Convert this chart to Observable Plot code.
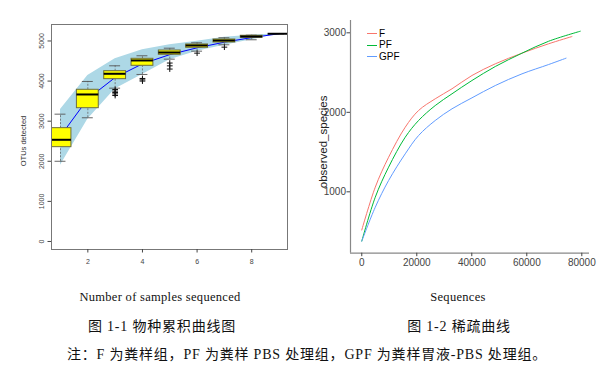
<!DOCTYPE html>
<html><head><meta charset="utf-8">
<script src="https://cdn.jsdelivr.net/npm/d3@7"></script>
<script src="https://cdn.jsdelivr.net/npm/@observablehq/plot@0.6"></script>
<style>
body{margin:0;background:#fff;}
#wrap{position:relative;width:611px;height:368px;overflow:hidden;background:#fff;}
#wrap svg{position:absolute;}
.cap{position:absolute;white-space:nowrap;transform:translate(-50%,-50%);color:#111;}
.en{font-family:"Liberation Serif","DejaVu Serif",serif;font-size:12.5px;letter-spacing:0.3px;}
.zh{font-family:"Liberation Serif","Noto Sans CJK SC",serif;font-size:14px;letter-spacing:0.8px;}
.leg{position:absolute;font-family:"Liberation Sans",Arial,sans-serif;font-size:10px;color:#000;line-height:10px;height:10px;}
.key{position:absolute;width:10px;height:0;border-top:1.2px solid;}
</style></head>
<body><div id="wrap"></div>
<script>
// ---- Left: species accumulation (box plots) ----
const sampleN = [1,2,3,4,5,6,7,8,9];
const whiskerLow  = [2000,3085,3823,4165,4547,4746,4905,5030,5180];
const q1          = [2352,3324,4048,4381,4656,4830,4963,5080,5180];
const medianOTU   = [2536,3666,4182,4514,4713,4888,5012,5112,5180];
const q3          = [2826,3783,4247,4556,4763,4913,5037,5130,5180];
const whiskerHigh = [3175,3990,4381,4631,4820,4955,5080,5145,5180];
const meanOTU     = [2630,3560,4090,4430,4660,4830,4970,5085,5180];
const bandLow     = [1900,3050,3800,4165,4530,4745,4895,5030,5180];
const bandHigh    = [3290,4140,4556,4780,4905,4995,5095,5145,5180];
const outlierX = [3,3,3,3,3,4,4,4,5,5,5,6,7];
const outlierY = [3790,3750,3715,3680,3640,4065,4030,4000,4450,4380,4300,4696,4846];
const leftXTicks = [2,4,6,8];
const leftYTicks = [0,1000,2000,3000,4000,5000];

// ---- Right: rarefaction curves ----
const F_x   = [0,4900,9750,15800,20650,26700,32800,40060,48540,58250,67930,76400];
const F_y   = [520,1058,1435,1813,2023,2170,2296,2463,2610,2744,2862,2953];
const PF_x  = [0,4900,9750,15800,20650,26700,32800,40060,48540,58250,67930,79450];
const PF_y  = [380,932,1310,1687,1897,2085,2233,2400,2576,2744,2894,3020];
const GPF_x = [0,4900,9750,15800,20650,26700,32800,40060,48540,58250,67930,74260];
const GPF_y = [380,806,1142,1478,1708,1897,2044,2182,2337,2484,2601,2681];
const groups = ["F","PF","GPF"];
const groupColors = ["#F8766D","#00BA38","#619CFF"];
const rightXTicks = [0,20000,40000,60000,80000];
const rightYTicks = [1000,2000,3000];
const rightXDomain = [-4100, 82800];
const rightYDomain = [228, 3155];

const boxes = sampleN.map((x,i)=>({x, lo:whiskerLow[i], q1:q1[i], med:medianOTU[i], q3:q3[i], hi:whiskerHigh[i], mean:meanOTU[i], bl:bandLow[i], bh:bandHigh[i]}));
const outliers = outlierX.map((x,i)=>({x, y:outlierY[i]}));

const leftPlot = Plot.plot({
  width: 300, height: 280,
  marginLeft: 51, marginRight: 13, marginTop: 24, marginBottom: 31,
  x: {domain: [0.67, 9.31]},
  y: {domain: [-200, 5411]},
  style: {background: "transparent", fontFamily: "Liberation Sans, Arial, sans-serif", overflow: "visible"},
  marks: [
    Plot.areaY(boxes, {x: "x", y1: "bl", y2: "bh", fill: "#ADD8E6", clip: true}),
    Plot.line(boxes, {x: "x", y: "mean", stroke: "#0000ff", strokeWidth: 1, clip: true}),
    Plot.ruleX(boxes, {x: "x", y1: "q3", y2: "hi", stroke: "#666", strokeDasharray: "2,1.5", strokeWidth: 0.8}),
    Plot.ruleX(boxes, {x: "x", y1: "lo", y2: "q1", stroke: "#666", strokeDasharray: "2,1.5", strokeWidth: 0.8}),
    Plot.ruleY(boxes, {y: "hi", x1: d=>d.x-0.2, x2: d=>d.x+0.2, stroke: "#555", strokeWidth: 0.9}),
    Plot.ruleY(boxes, {y: "lo", x1: d=>d.x-0.2, x2: d=>d.x+0.2, stroke: "#555", strokeWidth: 0.9}),
    Plot.rect(boxes, {x1: d=>d.x-0.4, x2: d=>d.x+0.4, y1: "q1", y2: "q3", fill: "#FFFF00", stroke: "#6e6e3e", strokeWidth: 1, clip: true}),
    Plot.ruleY(boxes, {y: "med", x1: d=>d.x-0.4, x2: d=>d.x+0.4, stroke: "#000", strokeWidth: 2, clip: true}),
    Plot.dot(outliers, {x: "x", y: "y", symbol: "plus", r: 2, stroke: "#111", strokeWidth: 1}),
    Plot.frame({stroke: "#777", strokeWidth: 1}),
    Plot.axisX({ticks: leftXTicks, tickFormat: d3.format("d"), tickSize: 3.5, tickPadding: 6, fontSize: 7, color: "#444", label: null}),
    Plot.axisY({ticks: leftYTicks, tickFormat: d3.format("d"), tickSize: 3.5, tickPadding: 4, tickRotate: -90, fontSize: 7, color: "#444", label: null}),
    Plot.text(["OTUs detected"], {frameAnchor: "left", textAnchor: "middle", dx: -28, dy: 4, rotate: -90, fontSize: 7.5, fill: "#333"})
  ]
});

const series = [];
[[F_x,F_y],[PF_x,PF_y],[GPF_x,GPF_y]].forEach(([xs,ys],g)=>{
  xs.forEach((x,i)=>series.push({group: groups[g], x, y: ys[i]}));
});

const rightPlot = Plot.plot({
  width: 311, height: 280,
  marginLeft: 50, marginRight: 22, marginTop: 20, marginBottom: 27.3,
  x: {domain: rightXDomain},
  y: {domain: rightYDomain},
  color: {domain: groups, range: groupColors},
  style: {background: "transparent", fontFamily: "Liberation Sans, Arial, sans-serif", overflow: "visible"},
  marks: [
    Plot.line(series, {x: "x", y: "y", z: "group", stroke: "group", strokeWidth: 1, curve: "catmull-rom"}),
    Plot.ruleX([rightXDomain[0]], {stroke: "#888", strokeWidth: 1.2}),
    Plot.ruleY([rightYDomain[0]], {stroke: "#888", strokeWidth: 1.2}),
    Plot.axisX({ticks: rightXTicks, tickFormat: d3.format("d"), tickSize: 3.5, tickPadding: 2, fontSize: 10, color: "#444", label: null}),
    Plot.axisY({ticks: rightYTicks, tickFormat: d3.format("d"), tickSize: 3.5, tickPadding: 1, fontSize: 10, color: "#444", label: null}),
    Plot.text(["observed_species"], {frameAnchor: "left", textAnchor: "middle", dx: -27, dy: 5, rotate: -90, fontSize: 11.5, fill: "#222"})
  ]
});

const wrap = document.getElementById("wrap");
leftPlot.style.left = "0px"; leftPlot.style.top = "0px";
rightPlot.style.left = "300px"; rightPlot.style.top = "0px";
wrap.appendChild(leftPlot);
wrap.appendChild(rightPlot);

// legend (inside right panel)
const legendY = [33, 44.5, 56];
groups.forEach((g,i)=>{
  const k = document.createElement("div");
  k.className = "key"; k.style.left = "367px"; k.style.top = legendY[i] + "px"; k.style.borderTopColor = groupColors[i];
  wrap.appendChild(k);
  const t = document.createElement("div");
  t.className = "leg"; t.textContent = g; t.style.left = "379px"; t.style.top = (legendY[i] - 4.5) + "px";
  wrap.appendChild(t);
});

const captions = [
  ["Number of samples sequenced", 160, 297, "en"],
  ["Sequences", 458, 297, "en"],
  ["图 1-1 物种累积曲线图", 162, 325, "zh"],
  ["图 1-2 稀疏曲线", 459, 325, "zh"],
  ["注：F 为粪样组，PF 为粪样 PBS 处理组，GPF 为粪样胃液-PBS 处理组。", 307, 353, "zh"]
];
captions.forEach(([txt,x,y,cls])=>{
  const d = document.createElement("div");
  d.className = "cap " + cls; d.textContent = txt;
  d.style.left = x + "px"; d.style.top = y + "px";
  wrap.appendChild(d);
});
</script></body></html>
